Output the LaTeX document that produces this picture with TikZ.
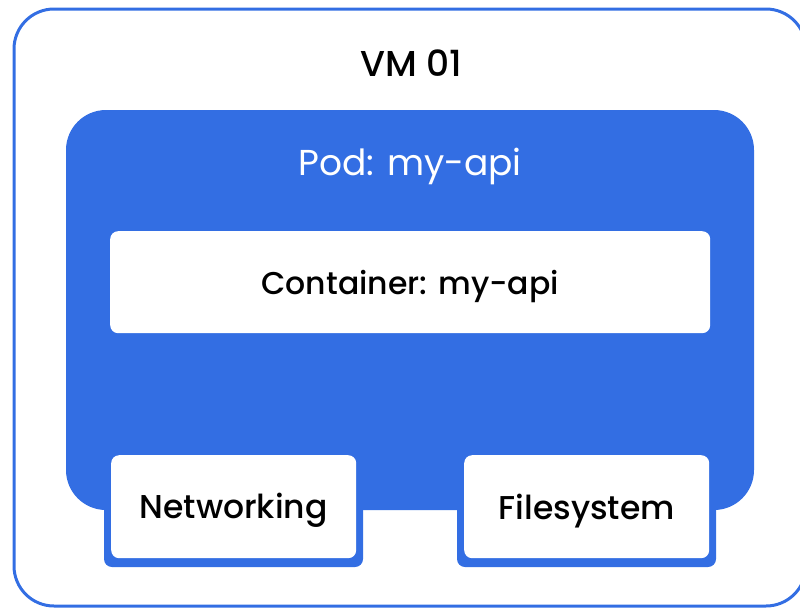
\documentclass[tikz,border=0pt]{standalone}
\usepackage{fontspec}
\setmainfont{Poppins}[BoldFont={Poppins Medium}]
\usepackage{xcolor}
\definecolor{podblue}{RGB}{51,110,227}

\begin{document}
\begin{tikzpicture}[x=1pt, y=-1pt]

        % 1. Page limits (pixel-like units, y grows downwards)
        \useasboundingbox (0,0) rectangle (800,608);

        \tikzset{
            label text/.style={font=\bfseries\fontsize{33}{36}\selectfont, text=black, yshift=-4pt},
            inner box/.style={fill=white, rounded corners=8pt, inner sep=0pt, anchor=north west},
            backing/.style={fill=podblue, rounded corners=8pt}
        }

        % 2. The VM frame
        \draw[podblue, line width=3pt, rounded corners=40pt] (14,9) rectangle (806,606);
        \node[font=\bfseries\fontsize{36}{40}\selectfont] (vm) at (411,63) {VM 01};

        % 3. The pod
        \fill[podblue, rounded corners=40pt] (66,110) rectangle (754,510);
        \node[font=\fontsize{36}{40}\selectfont, text=white] (pod) at (410,166) {Pod: my-api};

        % 4. The container inside the pod
        \node[inner box, minimum width=600pt, minimum height=102pt] (box) at (110,231) {};
        \node[label text, font=\bfseries\fontsize{31.5}{36}\selectfont] (container) at (box.center) {Container: my-api};

        % 5. Networking and filesystem, with a blue lip below
        \fill[backing] (104,455) rectangle (363,567);
        \fill[backing] (457,455) rectangle (716,567);

        \node[inner box, minimum width=245pt, minimum height=103pt] (netbox) at (111,455) {};
        \node[inner box, minimum width=245pt, minimum height=103pt] (fsbox) at (464,455) {};

        \node[label text] (net) at (netbox.center) {Networking};
        \node[label text] (fs) at (fsbox.center) {Filesystem};

\end{tikzpicture}
\end{document}
